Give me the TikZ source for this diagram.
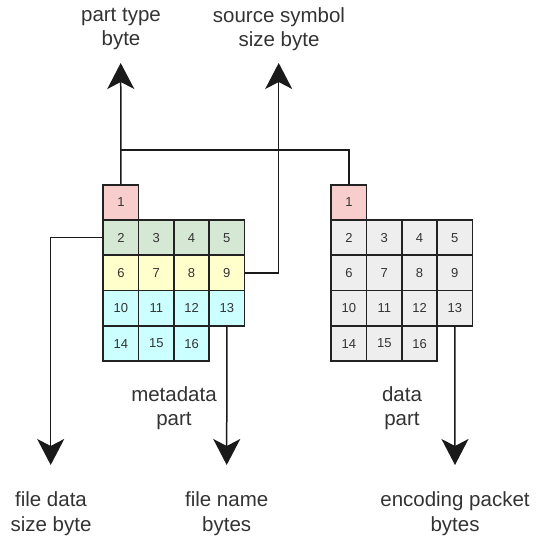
\documentclass[tikz,border=0pt]{standalone}
\usepackage{fontspec}
\setmainfont{Liberation Sans}
\usetikzlibrary{arrows.meta}
\definecolor{cpink}{HTML}{F8CECC}
\definecolor{cgreen}{HTML}{D5E8D4}
\definecolor{cyellow}{HTML}{FFFFCC}
\definecolor{ccyan}{HTML}{CCFFFF}
\definecolor{cgray}{HTML}{EEEEEE}
\definecolor{cborder}{HTML}{222222}
\definecolor{ctext}{HTML}{333333}
\definecolor{cline}{HTML}{1A1A1A}
\begin{document}
\begin{tikzpicture}[x=1pt,y=-1pt,
  cell/.style={draw=cborder, line width=1.7pt, minimum width=35.3pt, minimum height=35.3pt,
    inner sep=0pt, outer sep=0pt, anchor=north west, text=ctext,
    font=\fontsize{13}{15}\selectfont},
  lab/.style={align=center, inner sep=0pt, text=ctext, font=\fontsize{20.5}{24.5}\selectfont},
  conn/.style={line width=1.5pt, draw=cline},
  arr/.style={conn, -{Stealth[length=26pt,width=27pt,inset=7pt]}}]
\useasboundingbox (0,0) rectangle (535,540);
% cells
\node[cell, fill=cpink] (L1) at (103.3,184.7) {1};
\node[cell, fill=cpink] (R1) at (331.3,184.7) {1};
\foreach \n in {2,...,16} {
  \pgfmathtruncatemacro\kk{\n-2}
  \pgfmathtruncatemacro\cc{mod(\kk,4)}
  \pgfmathtruncatemacro\rr{div(\kk,4)}
  \ifcase\rr \def\fc{cgreen}\or\def\fc{cyellow}\or\def\fc{ccyan}\or\def\fc{ccyan}\fi
  \node[cell, fill=\fc] (L\n) at ({103.3+35.3*\cc},{220+35.3*\rr}) {\n};
  \node[cell, fill=cgray] (R\n) at ({331.3+35.3*\cc},{220+35.3*\rr}) {\n};
}
% end points
\coordinate (ptTip) at (120.7,63);
\coordinate (srcTip) at (278.7,63);
\coordinate (fdsTip) at (50.7,465);
\coordinate (fnTip) at (226.7,465);
\coordinate (encTip) at (455,465);
\coordinate (jn) at (120.7,150);
% connectors
\draw[arr] (L1.north) -- (ptTip);
\draw[conn] (L1.north |- jn) -| (R1.north);
\draw[arr] (L9.east) -| (srcTip);
\draw[arr] (L2.west) -| (fdsTip);
\draw[arr] (L13.south) -- (fnTip);
\draw[arr] (R13.south) -- (encTip);
% labels
\node[lab] (lpt) at (121,29) {part type\\byte};
\node[lab] (lsrc) at (279,29) {source symbol\\size byte};
\node[lab] (lmeta) at (174,408) {metadata\\part};
\node[lab] (ldata) at (402,408) {data\\part};
\node[lab] (lfds) at (51,513.5) {file data\\size byte};
\node[lab] (lfn) at (226.7,513.5) {file name\\bytes};
\node[lab] (lenc) at (455,513.5) {encoding packet\\bytes};
\end{tikzpicture}
\end{document}
